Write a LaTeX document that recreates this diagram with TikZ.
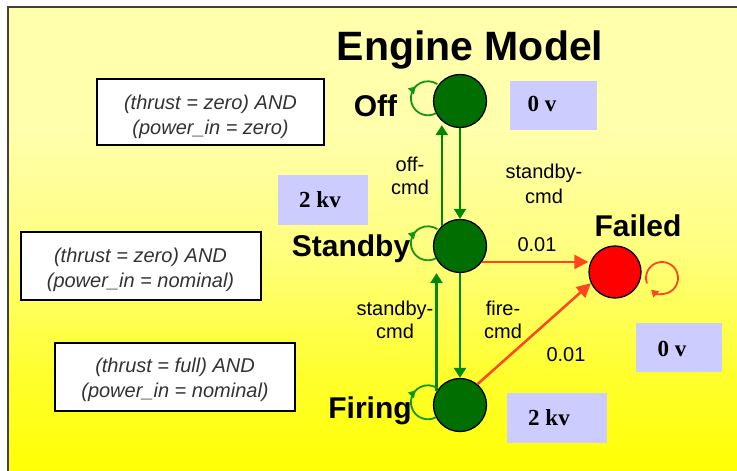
\documentclass[tikz,border=0pt]{standalone}
\usepackage{fontspec}
\setmainfont{Liberation Sans}
\newfontfamily\lserif{Liberation Serif}
\usetikzlibrary{arrows.meta,decorations.markings,calc}
\definecolor{paleY}{RGB}{255,255,172}
\definecolor{midY}{RGB}{255,255,125}
\definecolor{lowY}{RGB}{255,255,45}
\definecolor{botY}{RGB}{255,255,0}
\definecolor{lav}{RGB}{204,204,255}
\definecolor{stgreen}{RGB}{0,110,0}
\definecolor{lgreen}{RGB}{0,135,0}
\definecolor{loopgreen}{RGB}{20,150,20}
\definecolor{rline}{RGB}{255,70,30}
\pgfdeclareverticalshading{bgshade}{100bp}{color(0bp)=(botY); color(25bp)=(botY); color(36bp)=(lowY); color(49bp)=(midY); color(62bp)=(paleY); color(100bp)=(paleY)}
\begin{document}
\begin{tikzpicture}[x=1bp,y=1bp,
  state/.style={circle, draw=black, line width=1.3bp, minimum size=53bp, inner sep=0pt, fill=stgreen},
  slabel/.style={font=\fontsize{30bp}{36bp}\selectfont\bfseries, anchor=base, inner sep=0pt},
  tlabel/.style={font=\fontsize{20bp}{23bp}\selectfont, align=center, inner sep=0pt},
  cond/.style={font=\fontsize{20bp}{25bp}\selectfont\itshape, align=center, inner sep=0pt, text=black!80},
  cbox/.style={draw=black, line width=1.8bp, fill=white},
  vtxt/.style={font=\lserif\fontsize{23bp}{27bp}\selectfont\bfseries, inner sep=0pt},
  garrow/.style={draw=lgreen, line width=2.5bp, -{Triangle[length=10bp,width=12bp]}},
  rarrow/.style={draw=rline, line width=2.5bp, -{Triangle[length=14bp,width=14bp]}},
  gloopst/.style={draw=loopgreen, line width=1.8bp, postaction={decorate},
    decoration={markings, mark=at position 0.67 with {\arrow[loopgreen]{Triangle[length=7bp,width=8bp]}}}},
  rloopst/.style={draw=rline, line width=1.8bp, -{Triangle[length=7bp,width=8bp]}}
]
\useasboundingbox (0,0) rectangle (737,-471);
\fill[white] (0,0) rectangle (737,-471);
\begin{scope}
  \clip (0,0) rectangle (737,-471);
  \shade[shading=bgshade] (8,-7) rectangle (760,-480);
  \draw[line width=2bp, black!75] (8,-7) rectangle (760,-480);
\end{scope}

% title
\node[font=\fontsize{41bp}{49bp}\selectfont\bfseries, anchor=base, inner sep=0pt] (title) at (470,-61) {Engine Model};

% condition boxes
\draw[cbox] (97,-79) rectangle (324,-145);
\node[cond] (c1) at (210.5,-116.5) {(thrust = zero) AND\\(power\_in = zero)};
\draw[cbox] (21,-232) rectangle (261,-300);
\node[cond] (c2) at (140.5,-269.5) {(thrust = zero) AND\\(power\_in = nominal)};
\draw[cbox] (55,-343) rectangle (295,-411);
\node[cond] (c3) at (175,-380) {(thrust = full) AND\\(power\_in = nominal)};

% voltage boxes
\fill[lav] (510,-81) rectangle (597,-130);
\node[vtxt] (v1) at (542,-104) {0 v};
\fill[lav] (278,-175) rectangle (368,-225);
\node[vtxt] (v2) at (320,-200) {2 kv};
\fill[lav] (636,-323) rectangle (722,-372);
\node[vtxt] (v3) at (672,-349) {0 v};
\fill[lav] (507,-393) rectangle (607,-443);
\node[vtxt] (v4) at (549,-418) {2 kv};

% states
\node[state] (off) at (460,-101) {};
\node[state] (stby) at (460,-246) {};
\node[state] (fire) at (460,-405) {};
\node[state, fill=red, minimum size=52bp] (fail) at (615,-272) {};

% state labels
\node[slabel] (loff) at (375.5,-117) {Off};
\node[slabel] (lstby) at (351,-257) {Standby};
\node[slabel] (lfail) at (638,-237) {Failed};
\node[slabel] (lfire) at (370,-418) {Firing};

% transitions
\draw[garrow] (off.south) -- (stby.north);
\draw[garrow] (stby.south) -- (fire.north);
\draw[garrow] (stby.132) -- ([yshift=-4bp]off.228);
\draw[garrow] (fire.150) -- (fire.150 |- stby.south);
\draw[rarrow] (stby.-36) -- (stby.-36 -| fail.west);
\draw[rarrow] (fire.50) -- (fail.205);

% self loops
\draw[gloopst] (off.207) arc[start angle=-62.3, end angle=-303.9, radius=17bp];
\draw[gloopst] (stby.207) arc[start angle=-62.3, end angle=-303.9, radius=17bp];
\draw[gloopst] (fire.207) arc[start angle=-62.3, end angle=-303.9, radius=17bp];
\coordinate (floop) at (662,-278);
\draw[rloopst] ([shift={(200:16bp)}]floop) arc[start angle=200, end angle=-133, radius=16bp];

% transition labels
\node[tlabel] (e1) at (410,-176) {off-\\cmd};
\node[tlabel, font=\fontsize{20bp}{25bp}\selectfont] (e2) at (544,-184) {standby-\\cmd};
\node[tlabel] (e3) at (395,-320) {standby-\\cmd};
\node[tlabel] (e4) at (503,-320) {fire-\\cmd};
\node[tlabel, anchor=base] (p1) at (537,-252) {0.01};
\node[tlabel, anchor=base] (p2) at (566,-362) {0.01};
\end{tikzpicture}
\end{document}
